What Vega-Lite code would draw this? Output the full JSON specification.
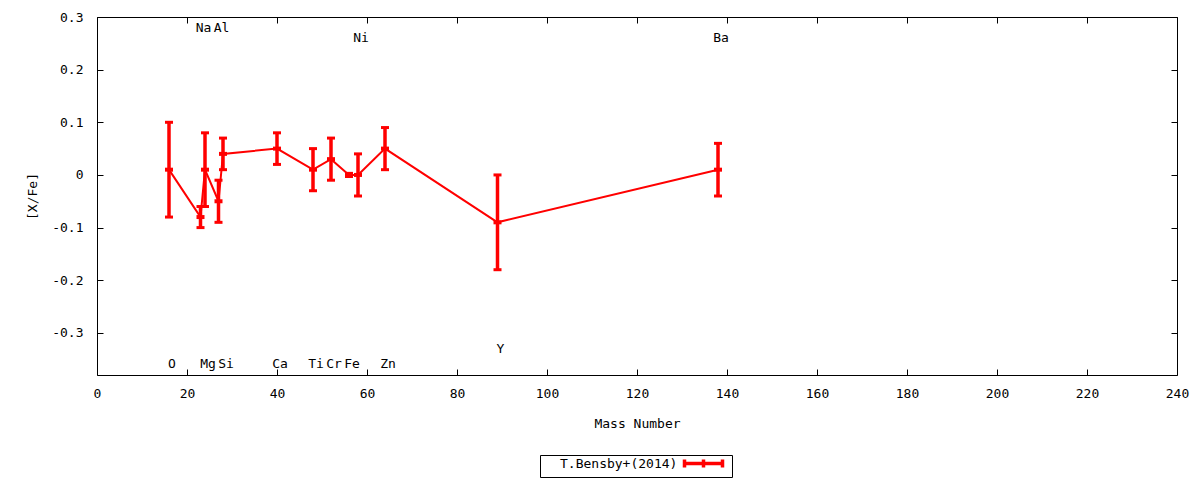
{
  "$schema": "https://vega.github.io/schema/vega-lite/v6.json",
  "autosize": "none",
  "width": 1080,
  "height": 358,
  "padding": {"left": 97, "top": 17, "right": 23, "bottom": 105},
  "background": "white",
  "config": {
    "font": "DejaVu Sans Mono",
    "view": {"stroke": "black", "strokeWidth": 1},
    "axis": {
      "grid": false,
      "domain": false,
      "tickColor": "black",
      "tickSize": -6,
      "tickWidth": 1,
      "labelFont": "DejaVu Sans Mono",
      "labelFontSize": 13,
      "labelColor": "black",
      "labelFlush": false,
      "labelOverlap": false,
      "titleFont": "DejaVu Sans Mono",
      "titleFontSize": 13,
      "titleFontWeight": "normal",
      "titleColor": "black"
    },
    "axisLeft": {"labelPadding": 20, "titlePadding": 12},
    "axisBottom": {"labelPadding": 18, "titlePadding": 17}
  },
  "data": {
    "values": [
      {"element": "O", "mass": 16, "value": 0.01, "low": -0.08, "high": 0.10, "labelY": -0.36, "source": "T.Bensby+(2014)"},
      {"element": "Na", "mass": 23, "value": -0.08, "low": -0.10, "high": -0.06, "labelY": 0.28, "source": "T.Bensby+(2014)"},
      {"element": "Mg", "mass": 24, "value": 0.01, "low": -0.06, "high": 0.08, "labelY": -0.36, "source": "T.Bensby+(2014)"},
      {"element": "Al", "mass": 27, "value": -0.05, "low": -0.09, "high": -0.01, "labelY": 0.28, "source": "T.Bensby+(2014)"},
      {"element": "Si", "mass": 28, "value": 0.04, "low": 0.01, "high": 0.07, "labelY": -0.36, "source": "T.Bensby+(2014)"},
      {"element": "Ca", "mass": 40, "value": 0.05, "low": 0.02, "high": 0.08, "labelY": -0.36, "source": "T.Bensby+(2014)"},
      {"element": "Ti", "mass": 48, "value": 0.01, "low": -0.03, "high": 0.05, "labelY": -0.36, "source": "T.Bensby+(2014)"},
      {"element": "Cr", "mass": 52, "value": 0.03, "low": -0.01, "high": 0.07, "labelY": -0.36, "source": "T.Bensby+(2014)"},
      {"element": "Fe", "mass": 56, "value": 0.0, "low": -0.003, "high": 0.003, "labelY": -0.36, "source": "T.Bensby+(2014)"},
      {"element": "Ni", "mass": 58, "value": 0.0, "low": -0.04, "high": 0.04, "labelY": 0.26, "source": "T.Bensby+(2014)"},
      {"element": "Zn", "mass": 64, "value": 0.05, "low": 0.01, "high": 0.09, "labelY": -0.36, "source": "T.Bensby+(2014)"},
      {"element": "Y", "mass": 89, "value": -0.09, "low": -0.18, "high": 0.0, "labelY": -0.33, "source": "T.Bensby+(2014)"},
      {"element": "Ba", "mass": 138, "value": 0.01, "low": -0.04, "high": 0.06, "labelY": 0.26, "source": "T.Bensby+(2014)"}
    ]
  },
  "layer": [
    {
      "encoding": {
        "x": {
          "field": "mass",
          "type": "quantitative",
          "scale": {"domain": [0, 240], "nice": false, "zero": false},
          "axis": {
            "orient": "bottom",
            "values": [0, 20, 40, 60, 80, 100, 120, 140, 160, 180, 200, 220, 240],
            "title": "Mass Number"
          }
        }
      },
      "layer": [
        {
          "mark": {"type": "line", "strokeWidth": 2},
          "encoding": {
            "y": {
              "field": "value",
              "type": "quantitative",
              "scale": {"domain": [-0.38, 0.3], "nice": false, "zero": false},
              "axis": {
                "orient": "left",
                "values": [-0.3, -0.2, -0.1, 0, 0.1, 0.2, 0.3],
                "labelExpr": "toString(datum.value)",
                "title": "[X/Fe]"
              }
            },
            "color": {
              "field": "source",
              "type": "nominal",
              "scale": {"range": ["#ff0000"]},
              "legend": {
                "title": null,
                "orient": "none",
                "legendX": 443,
                "legendY": 438,
                "padding": 2,
                "strokeColor": "black",
                "cornerRadius": 0,
                "labelFont": "DejaVu Sans Mono",
                "labelFontSize": 13,
                "labelColor": "black",
                "labelOffset": 5,
                "symbolType": "M68,0H87M68,-2V2M87,-2V2M77.5,-2V2",
                "symbolSize": 16,
                "symbolStrokeWidth": 3.5,
                "symbolStrokeColor": "#ff0000",
                "symbolFillColor": "transparent"
              }
            }
          }
        },
        {
          "mark": {"type": "rule", "color": "#ff0000", "strokeWidth": 3.5},
          "encoding": {
            "y": {"field": "low", "type": "quantitative"},
            "y2": {"field": "high"}
          }
        },
        {
          "mark": {"type": "tick", "orient": "horizontal", "color": "#ff0000", "size": 8, "thickness": 3, "opacity": 1},
          "encoding": {"y": {"field": "low", "type": "quantitative"}}
        },
        {
          "mark": {"type": "tick", "orient": "horizontal", "color": "#ff0000", "size": 8, "thickness": 3, "opacity": 1},
          "encoding": {"y": {"field": "high", "type": "quantitative"}}
        },
        {
          "mark": {"type": "tick", "orient": "horizontal", "color": "#ff0000", "size": 8, "thickness": 4, "opacity": 1},
          "encoding": {"y": {"field": "value", "type": "quantitative"}}
        }
      ]
    },
    {
      "mark": {"type": "text", "font": "DejaVu Sans Mono", "fontSize": 13, "color": "black", "dx": 3, "align": "center", "baseline": "middle"},
      "encoding": {
        "x": {
          "field": "mass",
          "type": "quantitative",
          "scale": {"domain": [0, 240], "nice": false, "zero": false},
          "axis": {
            "orient": "top",
            "values": [0, 20, 40, 60, 80, 100, 120, 140, 160, 180, 200, 220, 240],
            "labels": false,
            "title": null
          }
        },
        "y": {
          "field": "labelY",
          "type": "quantitative",
          "scale": {"domain": [-0.38, 0.3], "nice": false, "zero": false},
          "axis": {
            "orient": "right",
            "values": [-0.3, -0.2, -0.1, 0, 0.1, 0.2, 0.3],
            "labels": false,
            "title": null
          }
        },
        "text": {"field": "element"}
      }
    }
  ],
  "resolve": {"axis": {"x": "independent", "y": "independent"}}
}
